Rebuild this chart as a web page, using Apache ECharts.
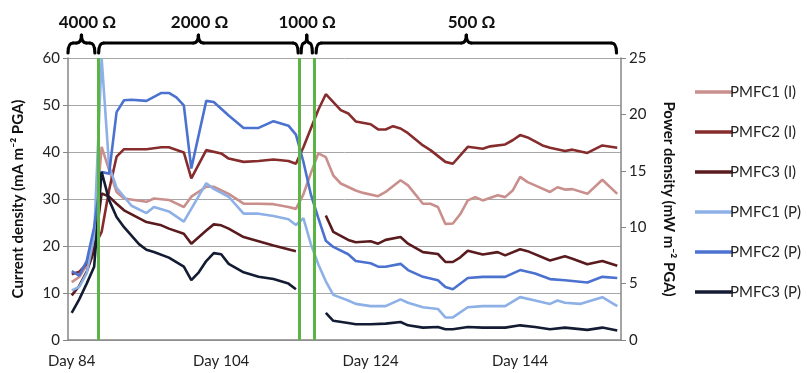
<!DOCTYPE html>
<html>
<head>
<meta charset="utf-8">
<script src="https://cdn.jsdelivr.net/npm/echarts@6/dist/echarts.min.js"></script>
<style>
  html, body { margin: 0; padding: 0; background: #fff; }
  #chart { width: 807px; height: 373px; }
</style>
</head>
<body>
<div id="chart"></div>
<script>
// one category per day, Day 84 .. Day 157
const firstDay = 84;
const lastDay = 157;
const dayLabels = [];
for (let d = firstDay; d <= lastDay; d++) dayLabels.push('Day ' + d);

// current density (mA m-2 PGA), [day, value]
const pmfc1I = [[84,12.3],[85,13.4],[86,15.9],[87,21.9],[88,41.1],[89,36.2],[90,31.5],[91,30.1],[94,29.4],[95,30.1],[97,29.8],[99,28.3],[100,30.5],[102,32.6],[103,32.6],[105,31.1],[107,29.0],[109,29.0],[111,28.9],[113,28.3],[114,27.9],[115,31.0],[116,35.5],[117,39.7],[118,38.9],[119,35.0],[120,33.3],[122,31.8],[123,31.3],[125,30.6],[126,31.5],[128,34.0],[129,32.9],[131,29.0],[132,29.0],[133,28.3],[134,24.7],[135,24.8],[136,26.8],[137,29.7],[138,30.4],[139,29.7],[141,30.8],[142,30.4],[143,31.8],[144,34.7],[145,33.6],[146,32.9],[148,31.5],[149,32.5],[150,32.0],[151,32.1],[153,31.1],[155,34.1],[157,31.1]];
const pmfc2I = [[84,14.0],[85,14.5],[86,16.2],[87,19.8],[88,23.0],[89,31.9],[90,39.0],[91,40.6],[94,40.6],[96,41.0],[97,41.0],[99,39.9],[100,34.4],[102,40.4],[104,39.7],[105,38.6],[107,37.9],[109,38.1],[111,38.4],[113,38.1],[114,37.5],[115,41.0],[116,45.0],[117,49.0],[118,52.3],[120,48.9],[121,48.2],[122,46.5],[124,45.9],[125,44.8],[126,44.8],[127,45.5],[128,45.0],[129,44.0],[131,41.4],[132,40.4],[134,37.9],[135,37.5],[137,41.1],[139,40.7],[140,41.2],[142,41.6],[143,42.5],[144,43.6],[145,43.1],[147,41.4],[148,40.9],[150,40.2],[151,40.5],[153,39.8],[155,41.4],[157,40.9]];
const pmfc3I = [[84,9.5],[85,11.5],[86,14.5],[87,19.0],[88,31.2],[89,30.5],[90,29.0],[91,27.6],[94,25.1],[96,24.4],[97,23.7],[99,22.6],[100,20.5],[102,23.3],[103,24.6],[104,24.4],[105,23.7],[107,21.9],[109,21.0],[111,20.1],[114,18.9],[116,null],[118,26.5],[119,23.0],[121,21.3],[122,20.8],[124,21.0],[125,20.5],[126,21.3],[128,21.9],[129,20.5],[131,18.7],[133,18.3],[134,16.6],[135,16.6],[136,17.6],[137,19.0],[139,18.2],[141,18.7],[142,18.0],[144,19.3],[145,18.9],[148,16.9],[150,17.8],[151,17.3],[153,16.1],[155,16.8],[157,15.8]];

// power density (mW m-2 PGA), [day, value]
const pmfc1P = [[84,4.4],[85,4.7],[86,5.9],[87,9.2],[88,25.0],[89,15.4],[90,13.5],[91,12.7],[92,11.9],[94,11.25],[95,11.8],[97,11.4],[99,10.5],[102,13.9],[103,13.4],[105,12.7],[107,11.2],[109,11.2],[111,11.0],[113,10.7],[114,10.2],[115,10.8],[116,8.5],[117,6.7],[118,5.2],[119,4.0],[121,3.5],[122,3.2],[124,3.0],[126,3.0],[128,3.6],[129,3.3],[131,2.9],[133,2.75],[134,2.0],[135,2.0],[137,2.9],[139,3.0],[142,3.0],[144,3.8],[146,3.5],[148,3.2],[149,3.5],[150,3.3],[152,3.2],[155,3.8],[157,3.0]];
const pmfc2P = [[84,6.1],[85,5.7],[86,7.0],[87,10.0],[88,14.9],[89,14.75],[90,20.2],[91,21.25],[92,21.3],[94,21.2],[96,21.9],[97,21.9],[98,21.5],[99,20.8],[100,15.2],[102,21.2],[103,21.1],[105,19.9],[107,18.8],[109,18.8],[111,19.4],[113,19.0],[114,18.2],[115,15.8],[116,12.9],[117,10.8],[118,8.8],[119,8.25],[121,7.6],[122,7.0],[124,6.8],[125,6.5],[126,6.5],[128,6.75],[129,6.2],[131,5.6],[133,5.3],[134,4.7],[135,4.5],[137,5.5],[139,5.6],[142,5.6],[144,6.2],[146,5.9],[148,5.4],[150,5.3],[153,5.1],[155,5.6],[157,5.5]];
const pmfc3P = [[84,2.4],[85,3.6],[86,5.0],[87,6.5],[88,14.9],[89,12.4],[90,10.9],[91,10.0],[93,8.5],[94,8.0],[95,7.8],[97,7.3],[98,6.9],[99,6.5],[100,5.3],[101,6.0],[102,7.0],[103,7.7],[104,7.6],[105,6.75],[107,6.0],[109,5.6],[111,5.4],[113,5.0],[114,4.5],[116,null],[118,2.4],[119,1.7],[121,1.5],[122,1.4],[124,1.4],[126,1.45],[128,1.6],[129,1.3],[131,1.1],[133,1.15],[134,0.95],[135,0.95],[137,1.15],[139,1.1],[142,1.1],[144,1.3],[146,1.15],[148,0.95],[150,1.1],[153,0.9],[155,1.1],[157,0.85]];

// external resistance periods (green lines mark the switches)
const switchDays = [87.5, 114.5, 116.5];
const resistorLabels = ['4000 Ω', '2000 Ω', '1000 Ω', '500 Ω'];
const periodStart = [83.5, 87.6, 114.7, 116.7];
const periodEnd = [87.1, 114.3, 116.2, 156.9];
const labelDay = [86.1, 101.1, 115.5, 137.5];

const font = 'Lato, "DejaVu Sans", sans-serif';

function line(name, data, color, yIdx) {
    return {
        name: name,
        type: 'line',
        xAxisIndex: 1,
        yAxisIndex: yIdx,
        data: data,
        symbol: 'none',
        connectNulls: false,
        lineStyle: { color: color, width: 2.6 },
        itemStyle: { color: color }
    };
}

const series = [
    line('PMFC1 (I)', pmfc1I, '#c98f8c', 0),
    line('PMFC2 (I)', pmfc2I, '#862c2d', 0),
    line('PMFC3 (I)', pmfc3I, '#5a1b1e', 0),
    line('PMFC1 (P)', pmfc1P, '#8db0e6', 1),
    line('PMFC2 (P)', pmfc2P, '#4c72d0', 1),
    line('PMFC3 (P)', pmfc3P, '#141c34', 1)
];
series[0].markLine = {
    silent: true,
    symbol: ['none', 'none'],
    label: { show: false },
    lineStyle: { color: '#5cb346', width: 3, type: 'solid' },
    data: switchDays.map(d => ({ xAxis: d }))
};

const option = {
    animation: false,
    textStyle: { fontFamily: font },
    grid: { left: 68, right: 186, top: 58, bottom: 33 },
    legend: {
        orient: 'vertical',
        left: 690,
        top: 79,
        icon: 'rect',
        itemWidth: 38,
        itemHeight: 3.5,
        itemGap: 24,
        textStyle: { fontSize: 15, color: '#222', fontFamily: font, lineHeight: 16, padding: [0, 0, 0, -8] },
        data: series.map(s => s.name)
    },
    xAxis: [
        {
            type: 'category',
            data: dayLabels,
            boundaryGap: true,
            axisLine: { lineStyle: { color: '#868686', width: 1.5 } },
            axisTick: { interval: 9, length: 5, lineStyle: { color: '#868686' } },
            axisLabel: { interval: 19, fontSize: 15, color: '#222', margin: 14 },
            splitLine: { show: false }
        },
        {
            type: 'value',
            min: firstDay - 0.5,
            max: lastDay + 0.5,
            show: false
        }
    ],
    yAxis: [
        {
            type: 'value',
            min: 0,
            max: 60,
            interval: 10,
            position: 'left',
            name: 'Current density (mA m⁻² PGA)',
            nameLocation: 'middle',
            nameGap: 42,
            nameTextStyle: { fontSize: 15, fontWeight: 'bold', color: '#111' },
            axisLine: { show: true, lineStyle: { color: '#868686', width: 1.5 } },
            axisTick: { show: true, length: 5, lineStyle: { color: '#868686' } },
            axisLabel: { fontSize: 15, color: '#222', margin: 8 },
            splitLine: { lineStyle: { color: '#a6a6a6', width: 1 } }
        },
        {
            type: 'value',
            min: 0,
            max: 25,
            interval: 5,
            position: 'right',
            name: 'Power density (mW m⁻² PGA)',
            nameLocation: 'middle',
            nameRotate: -90,
            nameGap: 40,
            nameTextStyle: { fontSize: 15, fontWeight: 'bold', color: '#111' },
            axisLine: { show: true, lineStyle: { color: '#868686', width: 1.5 } },
            axisTick: { show: true, length: 5, lineStyle: { color: '#868686' } },
            axisLabel: { fontSize: 15, color: '#222', margin: 8 },
            splitLine: { show: false }
        }
    ],
    series: series
};

const chart = echarts.init(document.getElementById('chart'));
chart.setOption(option);

// resistor brackets across the top
const toX = d => chart.convertToPixel({ xAxisIndex: 1 }, d);
const stroke = { stroke: '#000', lineWidth: 3.2, fill: null, lineCap: 'round' };
const graphics = [];
function curve(x1, y1, cx, cy, x2, y2) {
    graphics.push({ type: 'bezierCurve', silent: true, shape: { x1: x1, y1: y1, cpx1: cx, cpy1: cy, x2: x2, y2: y2 }, style: stroke });
}
function seg(x1, x2, y) {
    graphics.push({ type: 'line', silent: true, shape: { x1: x1, y1: y, x2: x2, y2: y }, style: stroke });
}
resistorLabels.forEach((label, i) => {
    const x1 = toX(periodStart[i]);
    const x2 = toX(periodEnd[i]);
    const xm = (x1 + x2) / 2;
    const r = Math.min(5, (x2 - x1) / 4);
    curve(x1, 53, x1, 43, x1 + r, 43);
    seg(x1 + r, xm - r, 43);
    curve(xm - r, 43, xm, 43, xm, 35);
    curve(xm, 35, xm, 43, xm + r, 43);
    seg(xm + r, x2 - r, 43);
    curve(x2 - r, 43, x2, 43, x2, 53);
    graphics.push({
        type: 'text',
        silent: true,
        x: toX(labelDay[i]),
        y: 23,
        style: {
            text: label,
            font: 'bold 17px ' + font,
            fill: '#111',
            textAlign: 'center',
            textVerticalAlign: 'middle'
        }
    });
});
chart.setOption({ graphic: graphics });
</script>
</body>
</html>
